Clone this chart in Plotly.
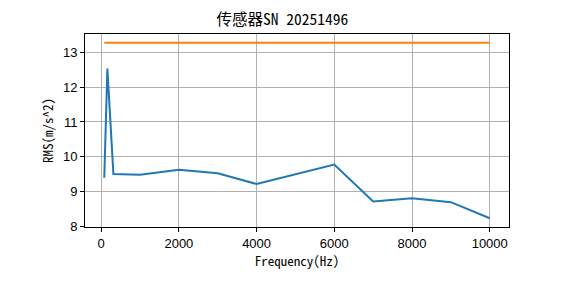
import plotly.graph_objects as go

freq = [80, 160, 315, 1000, 2000, 3000, 4000, 5000, 6000, 7000, 8000, 9000, 10000]
rms = [9.40, 12.53, 9.51, 9.49, 9.63, 9.53, 9.22, 9.49, 9.78, 8.72, 8.81, 8.70, 8.24]
limit = [13.27] * len(freq)
x_ticks = [0, 2000, 4000, 6000, 8000, 10000]
y_ticks = [8, 9, 10, 11, 12, 13]

cjk = "Noto Sans Mono CJK SC, Noto Sans CJK SC"
tickfont = dict(family="Liberation Sans, Arial", size=13, color="black")

fig = go.Figure()
fig.add_trace(go.Scatter(x=freq, y=rms, mode="lines", line=dict(color="#1f77b4", width=2), showlegend=False))
fig.add_trace(go.Scatter(x=freq, y=limit, mode="lines", line=dict(color="#ff7f0e", width=2), showlegend=False))

xmin, xmax = min(freq), max(freq)
xpad = 0.05 * (xmax - xmin)
allv = rms + limit
ymin, ymax = min(allv), max(allv)
ypad = 0.05 * (ymax - ymin)

fig.update_layout(
    width=565, height=283,
    margin=dict(l=85, r=56, t=34, b=56),
    paper_bgcolor="white", plot_bgcolor="white",
    title=dict(text="传感器SN 20251496", x=0.5, xanchor="center", y=1 - 20 / 283, yanchor="middle",
               font=dict(family=cjk, size=15.5, color="black")),
    xaxis=dict(range=[xmin - xpad, xmax + xpad], tickvals=x_ticks, ticktext=[str(v) for v in x_ticks],
               showgrid=True, gridcolor="#b0b0b0", gridwidth=1, zeroline=False,
               showline=True, linecolor="black", linewidth=1, mirror=True,
               ticks="outside", ticklen=4, tickcolor="black", tickfont=tickfont,
               title=dict(text="Frequency(Hz)", font=dict(family=cjk, size=13, color="black"), standoff=6)),
    yaxis=dict(range=[ymin - ypad, ymax + ypad], tickvals=y_ticks, ticktext=[str(v) for v in y_ticks],
               showgrid=True, gridcolor="#b0b0b0", gridwidth=1, zeroline=False,
               showline=True, linecolor="black", linewidth=1, mirror=True,
               ticks="outside", ticklen=4, tickcolor="black", tickfont=tickfont,
               title=dict(text="RMS(m/s^2)", font=dict(family=cjk, size=13, color="black"), standoff=6)),
)

fig.write_html("out.html")
